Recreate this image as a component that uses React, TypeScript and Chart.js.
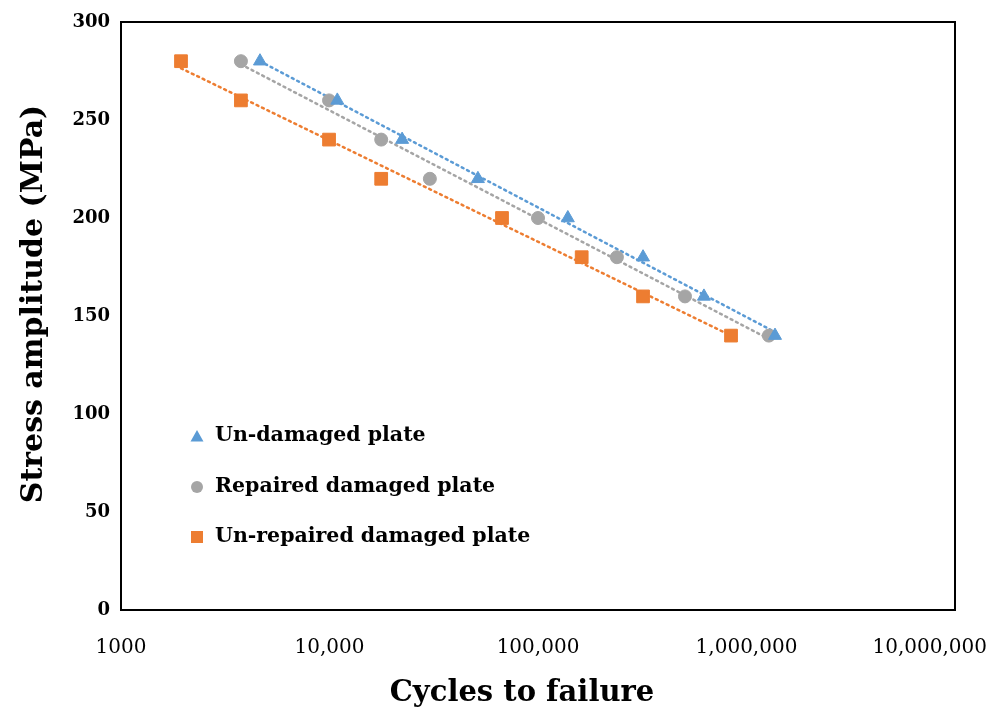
import React, { useEffect, useRef } from "react";
import { Chart, registerables } from "chart.js";

Chart.register(...registerables);

const xTickValues = [1000, 10000, 100000, 1000000, 10000000];
const xTickLabels = ["1000", "10,000", "100,000", "1,000,000", "10,000,000"];
const stressLevels = [280, 260, 240, 220, 200, 180, 160, 140];

const undamagedCycles = [4640, 10900, 22300, 51500, 139000, 319000, 625000, 1370000];
const repairedCycles = [3760, 9950, 17700, 30300, 100000, 239000, 507000, 1280000];
const unrepairedCycles = [1940, 3760, 9950, 17700, 67200, 162000, 319000, 843000];

// trendline end points (x = cycles, y = stress)
const undamagedTrendX = [4640, 1370000];
const undamagedTrendY = [280.0, 141.8];
const repairedTrendX = [3760, 1280000];
const repairedTrendY = [278.4, 138.3];
const unrepairedTrendX = [1940, 843000];
const unrepairedTrendY = [276.4, 140.0];

const seriesNames = ["Un-damaged plate", "Repaired damaged plate", "Un-repaired damaged plate"];
const xTitle = "Cycles to failure";
const yTitle = "Stress amplitude (MPa)";
const BLUE = "#5B9BD5";
const GRAY = "#A5A5A5";
const ORANGE = "#ED7D31";
const FONT = "'DejaVu Serif', serif";

const pts = (xs: number[], ys: number[]) => xs.map((x, i) => ({ x, y: ys[i] }));

export default function App() {
  const ref = useRef<HTMLCanvasElement | null>(null);
  useEffect(() => {
    document.body.style.margin = "0";
    const ctx = ref.current!.getContext("2d")!;

    const boxPlugin = {
      id: "box",
      afterDatasetsDraw(chart: any) {
        const { ctx, chartArea: a } = chart;
        ctx.save();
        ctx.strokeStyle = "#000";
        ctx.lineWidth = 2;
        ctx.strokeRect(a.left, a.top, a.right - a.left, a.bottom - a.top);
        ctx.restore();
      },
      afterDraw(chart: any) {
        const { ctx, chartArea: a } = chart;
        // x tick labels
        const xs = chart.scales.x;
        ctx.save();
        ctx.font = `20px ${FONT}`;
        ctx.fillStyle = "#000";
        ctx.textBaseline = "middle";
        ctx.textAlign = "center";
        xTickValues.forEach((v, i) => {
          const w = ctx.measureText(xTickLabels[i]).width;
          let px = xs.getPixelForValue(v);
          px = Math.min(px, chart.width - 8 - w / 2);
          ctx.fillText(xTickLabels[i], px, a.bottom + 38);
        });
        ctx.restore();

        // axis titles
        ctx.save();
        ctx.fillStyle = "#000";
        ctx.textAlign = "center";
        ctx.textBaseline = "middle";
        ctx.font = `bold 29px ${FONT}`;
        ctx.fillText(xTitle, (a.left + a.right) / 2 - 16, a.bottom + 83);
        ctx.translate(34, (a.top + a.bottom) / 2 - 12);
        ctx.rotate(-Math.PI / 2);
        ctx.font = `bold 30px ${FONT}`;
        ctx.fillText(yTitle, 0, 0);
        ctx.restore();

        // legend
        const colors = [BLUE, GRAY, ORANGE];
        const x0 = a.left + 76;
        const ys = [a.top + 414, a.top + 465, a.top + 515];
        ctx.save();
        ctx.font = `bold 20.5px ${FONT}`;
        ctx.textBaseline = "middle";
        ctx.textAlign = "left";
        seriesNames.forEach((name, i) => {
          const y = ys[i];
          ctx.fillStyle = colors[i];
          ctx.beginPath();
          if (i === 0) {
            ctx.moveTo(x0, y - 6);
            ctx.lineTo(x0 + 6.5, y + 5.5);
            ctx.lineTo(x0 - 6.5, y + 5.5);
            ctx.closePath();
            ctx.fill();
          } else if (i === 1) {
            ctx.arc(x0, y, 6, 0, Math.PI * 2);
            ctx.fill();
          } else {
            ctx.fillRect(x0 - 6, y - 6, 12, 12);
          }
          ctx.fillStyle = "#000";
          ctx.fillText(name, x0 + 18, y);
        });
        ctx.restore();
      },
    };

    const trend = (data: any[], color: string) => ({
      type: "line" as const,
      data,
      borderColor: color,
      borderWidth: 2.5,
      borderDash: [2, 4],
      borderCapStyle: "round" as const,
      pointRadius: 0,
      fill: false,
      order: 2,
    });

    const chart = new Chart(ctx, {
      type: "scatter",
      data: {
        datasets: [
          trend(pts(undamagedTrendX, undamagedTrendY), BLUE),
          trend(pts(repairedTrendX, repairedTrendY), GRAY),
          trend(pts(unrepairedTrendX, unrepairedTrendY), ORANGE),
          {
            label: seriesNames[0],
            data: pts(undamagedCycles, stressLevels),
            pointStyle: "triangle",
            pointRadius: 7.5,
            backgroundColor: BLUE,
            borderColor: BLUE,
            order: 1,
          },
          {
            label: seriesNames[1],
            data: pts(repairedCycles, stressLevels),
            pointStyle: "circle",
            pointRadius: 6.5,
            backgroundColor: GRAY,
            borderColor: GRAY,
            order: 1,
          },
          {
            label: seriesNames[2],
            data: pts(unrepairedCycles, stressLevels),
            pointStyle: "rect",
            pointRadius: 9,
            backgroundColor: ORANGE,
            borderColor: ORANGE,
            order: 1,
          },
        ],
      },
      options: {
        animation: false,
        responsive: false,
        layout: { padding: { top: 22, right: 40, left: 0, bottom: 0 } },
        plugins: { legend: { display: false }, tooltip: { enabled: false } },
        scales: {
          x: {
            type: "logarithmic",
            min: 1000,
            max: 10000000,
            afterBuildTicks(scale: any) {
              scale.ticks = xTickValues.map((v) => ({ value: v }));
            },
            afterFit(scale: any) {
              scale.height = 99;
              scale.paddingLeft = 0;
              scale.paddingRight = 0;
            },
            ticks: { display: false },
            grid: { display: false, drawTicks: false },
            border: { color: "#000", width: 2 },
            title: { display: false },
          },
          y: {
            min: 0,
            max: 300,
            afterFit(scale: any) {
              scale.width = 121;
            },
            ticks: {
              stepSize: 50,
              padding: 11,
              color: "#000",
              font: { family: FONT, size: 18, weight: "bold" },
            },
            grid: { display: false, drawTicks: false },
            border: { color: "#000", width: 2 },
            title: { display: false },
          },
        },
      } as any,
      plugins: [boxPlugin],
    });
    return () => chart.destroy();
  }, []);
  return (
    <div style={{ position: "absolute", left: 0, top: 0, width: 995, height: 709 }}>
      <canvas ref={ref} width={995} height={709} style={{ width: 995, height: 709 }} />
    </div>
  );
}
